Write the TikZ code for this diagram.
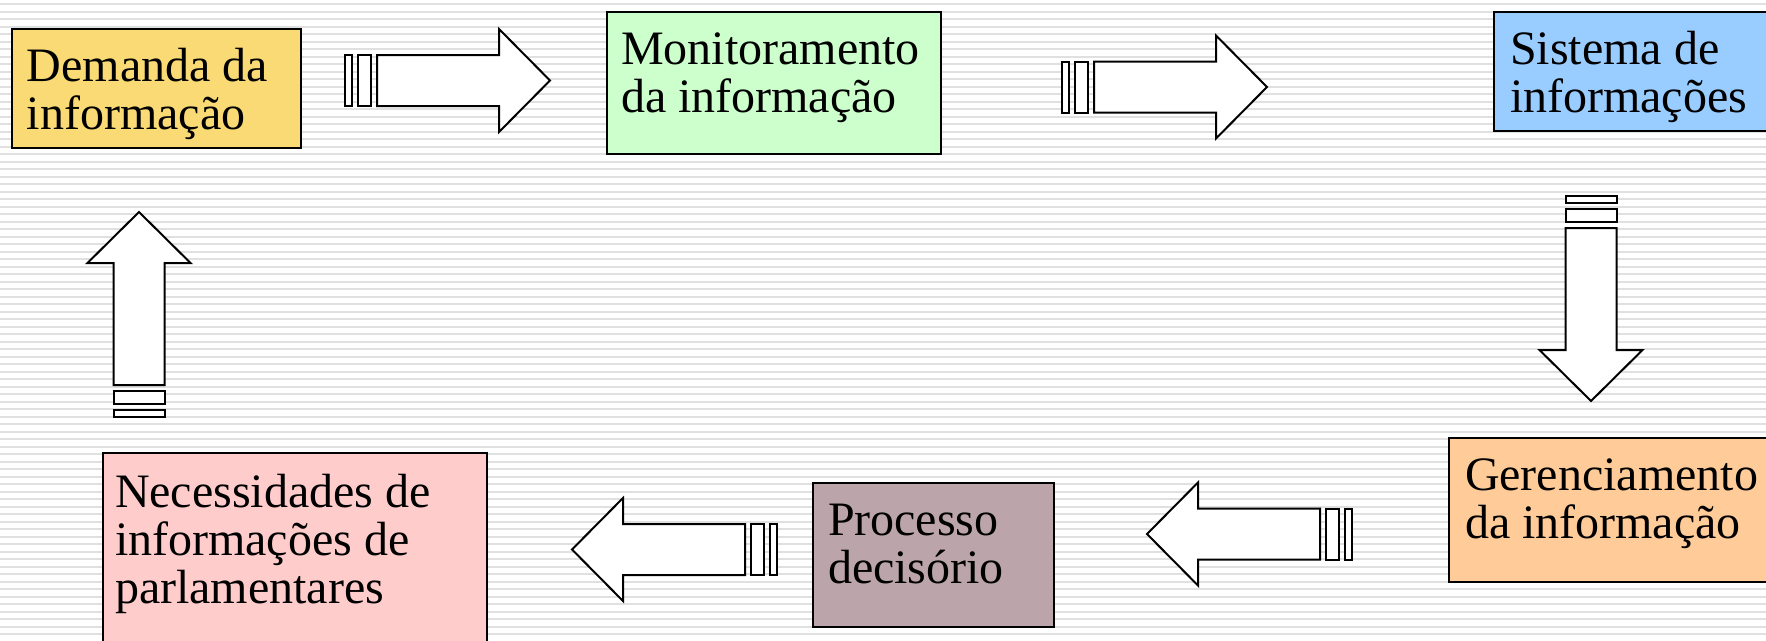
\documentclass[tikz,border=0pt]{standalone}
\usepackage{fontspec}
\setmainfont{Liberation Serif}
\definecolor{cyellow}{HTML}{F9DA74}
\definecolor{cgreen}{HTML}{CCFFCC}
\definecolor{cblue}{HTML}{99CCFF}
\definecolor{cpeach}{HTML}{FFCC99}
\definecolor{cmauve}{HTML}{BBA5AB}
\definecolor{cpink}{HTML}{FFCCCC}
\definecolor{stripe}{HTML}{E0E0E0}
\tikzset{
  box/.style={draw=black, line width=2pt, anchor=north west, inner sep=0pt, outer sep=0pt},
  lbl/.style={anchor=base west, inner sep=0pt, outer sep=0pt, font=\fontsize{48}{48}\selectfont},
  arrowpart/.style={draw=black, fill=white, line width=2pt, line join=miter},
  blockarrow/.pic={
    \path[arrowpart] (0,-25.5) rectangle (7,25.5);
    \path[arrowpart] (13,-25.5) rectangle (26,25.5);
    \path[arrowpart] (32,-25.5) -- (154,-25.5) -- (154,-51.5) -- (205,0)
      -- (154,51.5) -- (154,25.5) -- (32,25.5) -- cycle;
  }
}
\begin{document}
\begin{tikzpicture}[x=1pt,y=-1pt]
\useasboundingbox (0,0) rectangle (1766,640);
\clip (0,0) rectangle (1766,640);
\fill[white] (0,0) rectangle (1766,640);
\foreach \i in {0,...,85} {
  \fill[stripe] (0,{3+7.5*\i}) rectangle (1766,{5.2+7.5*\i});
}
% boxes
\node[box, fill=cyellow, minimum width=289pt, minimum height=119pt] (b1) at (12,29) {};
\node[box, fill=cgreen, minimum width=334pt, minimum height=142pt] (b2) at (607,12) {};
\node[box, fill=cblue, minimum width=320pt, minimum height=119pt] (b3) at (1494,12) {};
\node[box, fill=cpeach, minimum width=350pt, minimum height=144pt] (b4) at (1449,438) {};
\node[box, fill=cmauve, minimum width=241pt, minimum height=144pt] (b5) at (813,483) {};
\node[box, fill=cpink, minimum width=384pt, minimum height=220pt] (b6) at (103,453) {};
% labels
\node[lbl] (t1) at ([shift={(15,52)}]b1.north west) {\parbox[t]{400pt}{Demanda da\\informação}};
\node[lbl] (t2) at ([shift={(14,52)}]b2.north west) {\parbox[t]{400pt}{Monitoramento\\da informação}};
\node[lbl] (t3) at ([shift={(16,52)}]b3.north west) {\parbox[t]{400pt}{Sistema de\\informações}};
\node[lbl] (t4) at ([shift={(16,52)}]b4.north west) {\parbox[t]{400pt}{Gerenciamento\\da informação}};
\node[lbl] (t5) at ([shift={(15,52)}]b5.north west) {\parbox[t]{400pt}{Processo\\decisório}};
\node[lbl] (t6) at ([shift={(12,54)}]b6.north west) {\parbox[t]{400pt}{Necessidades de\\informações de\\parlamentares}};
% block arrows
\coordinate (a1) at (345,80.5);
\coordinate (a2) at (1062,87);
\coordinate (a3) at (1591,196);
\coordinate (a4) at (1352,534);
\coordinate (a5) at (777,549.5);
\coordinate (a6) at (139,417);
\pic at (a1) {blockarrow};
\pic at (a2) {blockarrow};
\pic[rotate=-90] at (a3) {blockarrow};
\pic[rotate=180] at (a4) {blockarrow};
\pic[rotate=180] at (a5) {blockarrow};
\pic[rotate=90] at (a6) {blockarrow};
\end{tikzpicture}
\end{document}
